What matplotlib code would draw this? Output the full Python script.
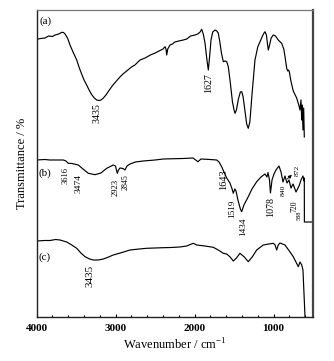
import matplotlib
matplotlib.use("Agg")
import matplotlib.pyplot as plt
from matplotlib.ticker import MultipleLocator

# ---- data (wavenumber cm-1, transmittance arbitrary units) ----
wn_a = [4000, 3950, 3895, 3850, 3800, 3768, 3720, 3683, 3660, 3641, 3610, 3578, 3540, 3493, 3460,
        3426, 3400, 3367, 3330, 3300, 3270, 3240, 3210, 3186, 3155, 3123, 3080, 3034, 2990, 2946,
        2900, 2860, 2800, 2756, 2691, 2627, 2560, 2500, 2450, 2400, 2374, 2362, 2353, 2340, 2311,
        2280, 2250, 2200, 2143, 2100, 2050, 1995, 1960, 1930, 1910, 1890, 1868, 1845, 1826, 1810,
        1792, 1770, 1741, 1720, 1700, 1680, 1660, 1636, 1615, 1593, 1573, 1550, 1520, 1500, 1488,
        1470, 1445, 1420, 1403, 1385, 1360, 1340, 1320, 1300, 1270, 1235, 1200, 1171, 1140, 1120,
        1108, 1090, 1075, 1066, 1050, 1030, 1003, 975, 940, 897, 870, 850, 833, 820, 810, 800,
        780, 750, 707, 680, 665, 652, 643, 636, 627, 618, 610]
t_a = [277.7, 278.5, 279, 281, 280.5, 282, 283, 284.7, 284.5, 283, 279, 272, 265, 257, 249,
       242, 237, 232, 226, 222, 219, 217, 216.5, 217, 219, 222, 227, 232, 236, 240,
       243.5, 246, 250, 252, 257, 259, 262, 264, 266, 268, 270.3, 268, 262, 268, 272,
       273, 275, 276, 277, 278, 281, 282, 283, 285, 287.7, 283, 274, 258, 247, 260,
       277, 285, 287, 286, 284, 275, 264, 255.3, 256, 255.3, 250.3, 236, 215, 207, 203.7,
       207, 218, 225, 225.3, 220, 205, 193, 188.7, 195, 225, 257, 270, 275.3, 281, 284,
       285.3, 282, 272, 267, 272, 279, 282, 281, 277, 273.7, 268, 258, 248.7, 246, 247, 245.3,
       236, 226, 219, 212, 207, 217, 197, 212, 187, 209, 180]

wn_b = [4000, 3900, 3832, 3750, 3663, 3629, 3600, 3553, 3473, 3414, 3346, 3262, 3186, 3113, 3030,
        3002, 2979, 2964, 2945, 2907, 2882, 2856, 2818, 2750, 2650, 2500, 2396, 2250, 2147, 2020,
        1957, 1919, 1805, 1720, 1690, 1657, 1628, 1593, 1552, 1525, 1510, 1490, 1476, 1451, 1420,
        1404, 1375, 1320, 1273, 1213, 1159, 1108, 1083, 1070, 1051, 1039, 1019, 994, 969, 931,
        905, 880, 855, 829, 804, 779, 753, 715, 677, 652, 627, 612, 610, 609, 519]
t_b = [157, 157.5, 157, 157, 157, 156, 153.7, 153.5, 152, 148, 143.7, 142.3, 144, 148.7, 152,
       151, 143.7, 147, 149, 148.5, 147, 151, 153, 155, 156, 157, 158, 158.3, 158.5, 159,
       155.3, 158, 157.5, 157, 155, 150.3, 145, 139, 134, 128, 123.7, 128, 126.3, 117, 108,
       105.3, 112, 120.3, 128, 135.3, 140, 143, 140, 144.5, 137, 124, 137, 143, 147, 151,
       145, 135, 141, 134, 137, 129, 133, 125, 131, 137, 141, 136, 139, 95, 95]

wn_c = [4000, 3900, 3832, 3760, 3705, 3620, 3566, 3493, 3440, 3388, 3330, 3283, 3220, 3156, 3090,
        3030, 2920, 2818, 2700, 2607, 2500, 2396, 2300, 2185, 2100, 2016, 1973, 1870, 1763, 1700,
        1636, 1593, 1550, 1510, 1470, 1425, 1370, 1320, 1270, 1213, 1130, 1060, 1003, 980, 960,
        940, 918, 855, 800, 750, 686, 665, 643, 627, 601]
t_c = [76, 76.5, 76.5, 77.5, 77, 75, 72.5, 68.7, 64, 60.3, 58, 57, 57, 58, 60,
       62, 64.5, 67, 68, 68.7, 69, 69.3, 69.5, 70, 71, 73.7, 72, 71, 69.7, 67,
       63.7, 63, 60, 56, 59, 63.7, 60, 55.3, 60, 67, 72, 73, 73.7, 72, 67,
       72, 74, 72, 66, 60.3, 50.3, 55, 52, 47, 0]

xticks_major = [4000, 3000, 2000, 1000]

peak_labels = [  # text, wn, T, fontsize
    ("3435", 3236, 204, 7.2),
    ("1627", 1817, 234, 7.2),
    ("3616", 3635, 141, 6.0),
    ("3474", 3471, 133, 6.8),
    ("2923", 3002, 130, 6.2),
    ("2845", 2875, 135, 5.8),
    ("1643", 1634, 137, 7.4),
    ("1519", 1520, 108, 6.6),
    ("1434", 1380, 90, 6.6),
    ("1078", 1032, 110, 7.2),
    ("840", 874, 127, 5.4),
    ("872", 697, 147, 5.4),
    ("720", 735, 111, 5.6),
    ("588", 678, 102, 4.6),
    ("3435", 3325, 41.5, 8.0),
]
panel_labels = [("(a)", 3882, 296), ("(b)", 3901, 144), ("(c)", 3901, 60)]

# ---- figure ----
plt.rcParams['font.family'] = ['Liberation Serif', 'DejaVu Serif']
fig = plt.figure(figsize=(3.34, 3.61), dpi=100)
ax = fig.add_axes([0.1099, 0.1219, 0.8272, 0.8504])

lw = 0.85
ax.plot(wn_a, t_a, color='black', lw=lw)
ax.plot(wn_b, t_b, color='black', lw=lw)
ax.plot(wn_c, t_c, color='black', lw=lw)

ax.set_xlim(4000, 500)
ax.set_ylim(0, 307)
ax.set_yticks([])
ax.xaxis.set_major_locator(plt.FixedLocator(xticks_major))
ax.xaxis.set_minor_locator(MultipleLocator(200))
ax.tick_params(axis='x', which='major', direction='in', length=2.5, width=0.8, labelsize=8, pad=5)
ax.tick_params(axis='x', which='minor', direction='in', length=1.5, width=0.8)
for lab in ax.get_xticklabels():
    lab.set_fontweight('bold')

for s in ['left', 'bottom']:
    ax.spines[s].set_color('#222222')
    ax.spines[s].set_linewidth(1.0)
ax.spines['top'].set_color('#777777')
ax.spines['top'].set_linewidth(0.9)
ax.spines['right'].set_color('#444444')
ax.spines['right'].set_linewidth(1.6)

ax.set_xlabel('Wavenumber / cm$^{\\mathregular{-1}}$', fontsize=9, labelpad=3)
ax.set_ylabel('Transmittance / %', fontsize=9, labelpad=6)

for txt, x, y in panel_labels:
    ax.text(x, y, txt, fontsize=8, ha='center', va='center')
for txt, x, y, fs in peak_labels:
    ax.text(x, y, txt, fontsize=fs, rotation=90, ha='center', va='center')

ax.annotate('', xy=(741, 144), xytext=(855, 136),
            arrowprops=dict(arrowstyle='-|>', color='black', lw=0.6, mutation_scale=5))

fig.savefig('out.png', dpi=100)
